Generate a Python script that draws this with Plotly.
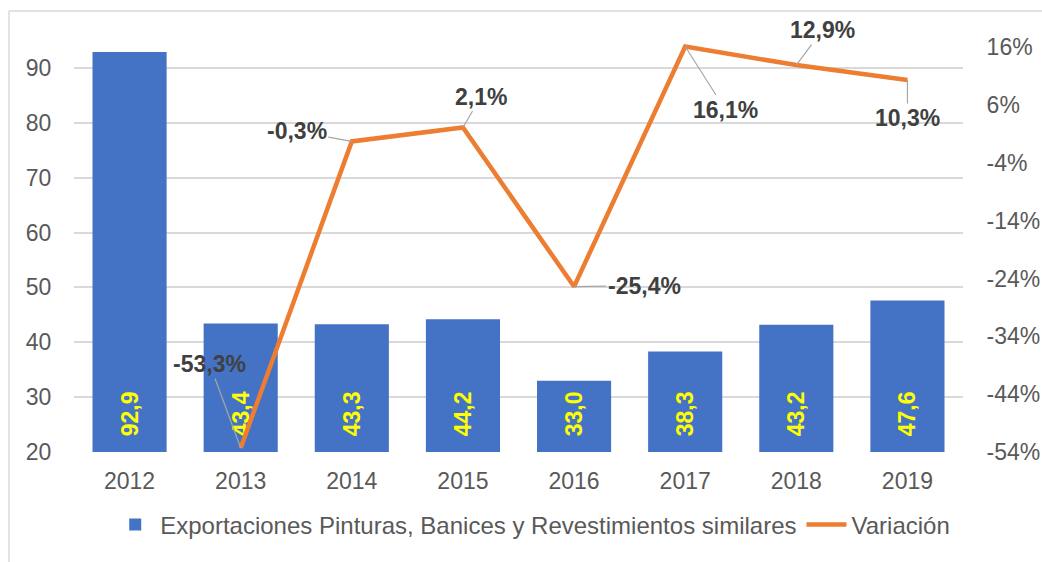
import plotly.graph_objects as go

YEARS = ["2012", "2013", "2014", "2015", "2016", "2017", "2018", "2019"]
EXPORTS = [92.9, 43.4, 43.3, 44.2, 33.0, 38.3, 43.2, 47.6]
VAR_YEARS = ["2013", "2014", "2015", "2016", "2017", "2018", "2019"]
VARIATION = [-53.3, -0.3, 2.1, -25.4, 16.1, 12.9, 10.3]
LEFT_TICKS = [20, 30, 40, 50, 60, 70, 80, 90]
RIGHT_TICKS = [-54, -44, -34, -24, -14, -4, 6, 16]

BAR_NAME = "Exportaciones Pinturas, Banices y Revestimientos similares"
LINE_NAME = "Variación"

BAR_COLOR = "#4472C4"
LINE_COLOR = "#ED7D31"
AXIS_TEXT = "#595959"
LABEL_TEXT = "#404040"
GRID = "#D9D9D9"
FONT = "Liberation Sans, Arial, sans-serif"
FS = 23

# pixel offsets of each variation label from its point (label centre - point)
LABEL_OFFSETS = [(-31, -84), (-55, -10), (18, -31), (70, -1), (40, 63), (26, -35), (0, 38)]

Y_MIN = LEFT_TICKS[0]  # Excel draws the columns up from the axis minimum


def _dec(v: float) -> str:
    return f"{v:.1f}".replace(".", ",")


fig = go.Figure()

fig.add_trace(
    go.Bar(
        x=YEARS,
        y=[v - Y_MIN for v in EXPORTS],
        base=Y_MIN,
        name=BAR_NAME,
        marker=dict(color=BAR_COLOR, line=dict(width=0)),
        text=["\u00a0\u00a0" + _dec(v) for v in EXPORTS],
        texttemplate="%{text}",
        textposition="inside",
        insidetextanchor="start",
        textangle=-90,
        textfont=dict(color="#FFFF00", size=FS, family=FONT, weight="bold"),
        hovertemplate="%{x}: %{text}<extra></extra>",
    )
)

fig.add_trace(
    go.Scatter(
        x=VAR_YEARS,
        y=VARIATION,
        name=LINE_NAME,
        yaxis="y2",
        mode="lines",
        line=dict(color=LINE_COLOR, width=4.5),
    )
)

annotations = []
for yr, v, (ax, ay) in zip(VAR_YEARS, VARIATION, LABEL_OFFSETS):
    annotations.append(
        dict(
            x=YEARS.index(yr),
            y=v,
            xref="x",
            yref="y2",
            text=f"<b>{_dec(v)}%</b>",
            showarrow=True,
            arrowhead=0,
            arrowwidth=1.2,
            arrowcolor="#A6A6A6",
            standoff=0,
            ax=ax,
            ay=ay,
            font=dict(color=LABEL_TEXT, size=FS, family=FONT),
        )
    )

# outer chart frame
shapes = [
    dict(type="line", xref="paper", yref="paper", x0=-0.0731, x1=-0.0731, y0=-0.3, y1=1.0046,
         line=dict(color=GRID, width=1.5)),
    dict(type="line", xref="paper", yref="paper", x0=-0.0731, x1=1.1, y0=1.0046, y1=1.0046,
         line=dict(color=GRID, width=1.5)),
]

fig.update_layout(
    width=1042,
    height=562,
    margin=dict(l=74, r=79, t=13, b=110, autoexpand=False),
    paper_bgcolor="white",
    plot_bgcolor="white",
    separators=",.",
    bargap=0.333,
    font=dict(family=FONT, color=AXIS_TEXT, size=FS),
    showlegend=True,
    legend=dict(
        orientation="h",
        x=0.516,
        xanchor="center",
        y=-0.166,
        yanchor="middle",
        font=dict(size=24, color=AXIS_TEXT, family=FONT),
        itemwidth=40,
        traceorder="normal",
    ),
    annotations=annotations,
    shapes=shapes,
    xaxis=dict(
        type="category",
        range=[-0.5, len(YEARS) - 0.5],
        automargin=False,
        showgrid=False,
        showline=False,
        ticks="outside",
        ticklen=8,
        tickcolor="rgba(0,0,0,0)",
        tickfont=dict(size=FS, color=AXIS_TEXT),
        fixedrange=True,
    ),
    yaxis=dict(
        range=[Y_MIN, 100],
        tickvals=LEFT_TICKS,
        automargin=False,
        showgrid=True,
        gridcolor=GRID,
        gridwidth=1.5,
        zeroline=False,
        showline=False,
        ticks="outside",
        ticklen=17,
        tickcolor="rgba(0,0,0,0)",
        tickfont=dict(size=FS, color=AXIS_TEXT),
        fixedrange=True,
    ),
    yaxis2=dict(
        overlaying="y",
        side="right",
        range=[-54, 21.9],
        tickvals=RIGHT_TICKS,
        ticktext=[f"{t}%" for t in RIGHT_TICKS],
        automargin=False,
        showgrid=False,
        zeroline=False,
        showline=False,
        ticks="outside",
        ticklen=18,
        tickcolor="rgba(0,0,0,0)",
        tickfont=dict(size=FS, color=AXIS_TEXT),
        fixedrange=True,
    ),
)

fig.write_html(
    "out.html",
    config=dict(displayModeBar=False),
    post_script="document.body.style.margin='0';",
)
